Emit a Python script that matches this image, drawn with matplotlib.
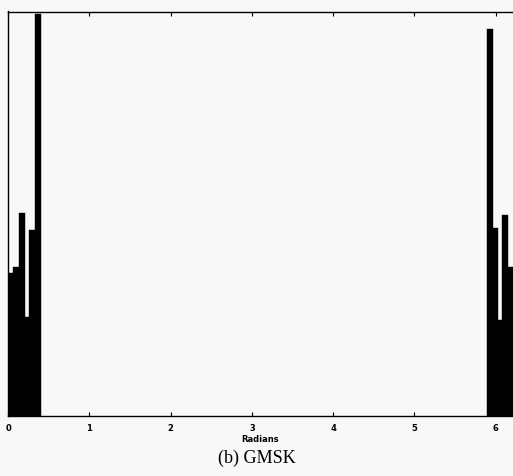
import matplotlib
matplotlib.use("Agg")
import matplotlib.pyplot as plt
import numpy as np

# Histogram of phase (radians) - bin edges and counts
left_edges = [0.0, 0.062, 0.135, 0.209, 0.258, 0.332, 0.406]
left_counts = [143, 149, 203, 99, 186, 402]
right_edges = [5.891, 5.965, 6.027, 6.076, 6.150, 6.212]
right_counts = [387, 188, 96, 201, 149]
xticks = [0, 1, 2, 3, 4, 5, 6]
xlabel = "Radians"
caption = "(b) GMSK"

bg = "#f8f8f8"
fig = plt.figure(figsize=(5.13, 4.76), dpi=100, facecolor=bg)
ax = fig.add_axes([8 / 513, 60 / 476, 1 - 8 / 513, 404.5 / 476])
ax.set_facecolor(bg)

for edges, counts in ((left_edges, left_counts), (right_edges, right_counts)):
    e = np.array(edges)
    ax.bar(e[:-1], counts, width=np.diff(e), align="edge", color="black",
           edgecolor="black", linewidth=0.3)

ax.set_xlim(0, 6.212)
ax.set_ylim(0, 404)
ax.set_xticks(xticks)
ax.set_xticklabels([str(t) for t in xticks], fontsize=6, fontweight="bold",
                   family="DejaVu Sans")
ax.set_yticks([])
ax.tick_params(axis="x", direction="in", length=3, width=0.8, top=True,
               bottom=True, pad=5.5)
for s in ("top", "bottom", "left"):
    ax.spines[s].set_linewidth(1.0)
ax.spines["right"].set_visible(False)

ax.set_xlabel(xlabel, fontsize=6, fontweight="bold", labelpad=1.5)
fig.text(0.5, 1 - 458 / 476, caption, ha="center", va="center",
         fontsize=13, family="Liberation Serif")

fig.savefig("out.png", dpi=100, facecolor=bg)
